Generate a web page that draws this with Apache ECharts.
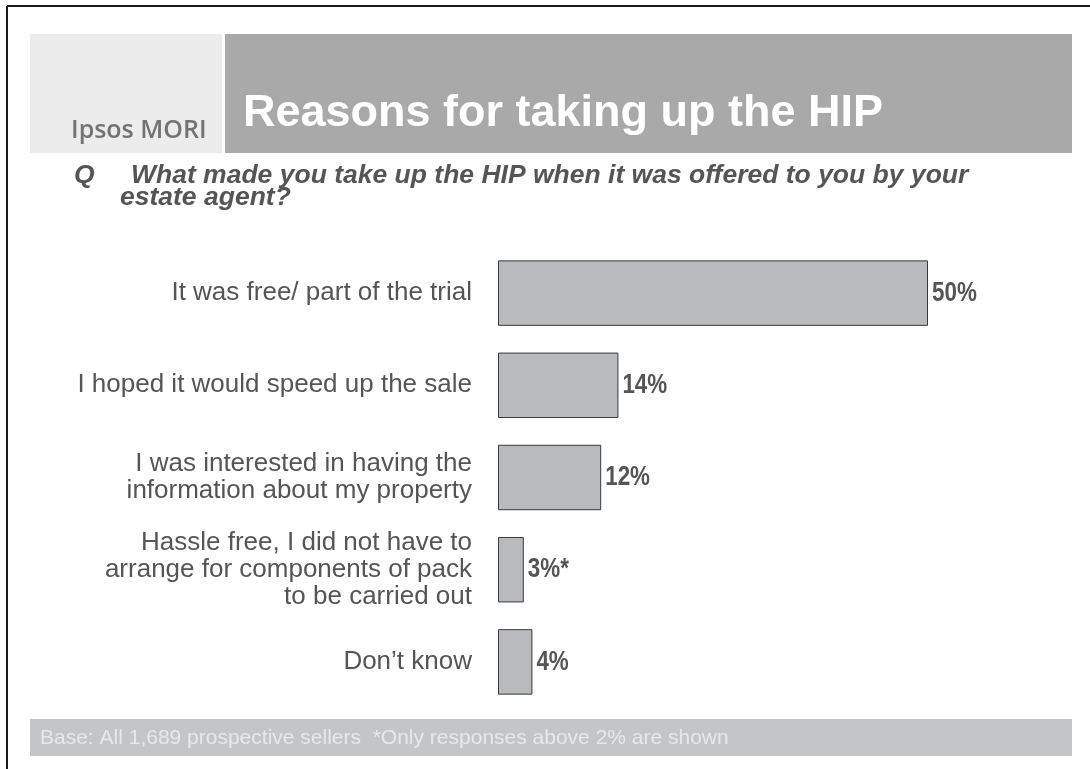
<!DOCTYPE html>
<html>
<head>
<meta charset="utf-8">
<script src="https://cdn.jsdelivr.net/npm/echarts@6/dist/echarts.min.js"></script>
<style>
  html, body { margin: 0; padding: 0; background: #ffffff; }
  #chart { width: 1090px; height: 769px; }
</style>
</head>
<body>
<div id="chart"></div>
<script>
// Survey answers, top to bottom
const categories = [
  'It was free/ part of the trial',
  'I hoped it would speed up the sale',
  'I was interested in having the\ninformation about my property',
  'Hassle free, I did not have to\narrange for components of pack\nto be carried out',
  'Don\u2019t know'
];
const shares = [50, 14, 12, 3, 4];        // percent of respondents
const shareNotes = ['', '', '', '*', ''];  // footnote markers after a value

const titleText = 'Reasons for taking up the HIP';
const brandText = 'Ipsos MORI';
const questionMark = 'Q';
const questionLines = [
  'What made you take up the HIP when it was offered to you by your',
  'estate agent?'
];
const baseText = 'Base: All 1,689 prospective sellers  *Only responses above 2% are shown';

const chart = echarts.init(document.getElementById('chart'), null, { renderer: 'canvas' });

const ARIAL = '"Liberation Sans", Arial, sans-serif';
const QFONT = 'italic bold 26.5px ' + ARIAL;

// value labels: bold type squeezed horizontally, like a narrow face
function renderValueLabel(params, api) {
  const idx = params.dataIndex;
  const end = api.coord([api.value(0), api.value(1)]);
  return {
    type: 'text',
    x: end[0] + 4,
    y: end[1],
    scaleX: 0.8,
    style: {
      text: api.value(0) + '%' + shareNotes[idx],
      fill: '#555555',
      font: 'bold 28px ' + ARIAL,
      align: 'left',
      verticalAlign: 'middle'
    }
  };
}

chart.setOption({
  backgroundColor: '#ffffff',
  animation: false,
  graphic: [
    // page frame (top and left edges)
    { type: 'line', shape: { x1: 7, y1: 6, x2: 1090, y2: 6 }, style: { stroke: '#1a1a1a', lineWidth: 2 } },
    { type: 'line', shape: { x1: 7, y1: 6, x2: 7, y2: 769 }, style: { stroke: '#1a1a1a', lineWidth: 2 } },
    // header blocks
    { type: 'rect', shape: { x: 30, y: 34, width: 192, height: 119 }, style: { fill: '#ececec' } },
    { type: 'rect', shape: { x: 225, y: 34, width: 847, height: 119 }, style: { fill: '#a9a9a9' } },
    {
      type: 'text', x: 71, y: 131,
      style: {
        text: brandText, fill: '#737373',
        font: '600 25px "Open Sans", "Noto Sans", sans-serif',
        verticalAlign: 'middle'
      }
    },
    {
      type: 'text', x: 243, y: 114,
      style: {
        text: titleText, fill: '#ffffff',
        font: 'bold 45px ' + ARIAL,
        verticalAlign: 'middle'
      }
    },
    // question
    {
      type: 'text', x: 74, y: 176,
      style: { text: questionMark, fill: '#555555', font: QFONT, verticalAlign: 'middle' }
    },
    {
      type: 'text', x: 131, y: 176,
      style: { text: questionLines[0], fill: '#555555', font: QFONT, verticalAlign: 'middle' }
    },
    {
      type: 'text', x: 120, y: 198,
      style: { text: questionLines[1], fill: '#555555', font: QFONT, verticalAlign: 'middle' }
    },
    // base note strip
    { type: 'rect', shape: { x: 30, y: 719, width: 1042, height: 37 }, style: { fill: '#c4c5c7' } },
    {
      type: 'text', x: 40, y: 738,
      style: { text: baseText, fill: '#e8e8e8', font: '21px ' + ARIAL, verticalAlign: 'middle' }
    }
  ],
  grid: { left: 498, top: 247, right: 76, bottom: 61, containLabel: false },
  xAxis: {
    type: 'value', min: 0, max: 60,
    show: false
  },
  yAxis: {
    type: 'category',
    data: categories,
    inverse: true,
    axisLine: { show: false },
    axisTick: { show: false },
    splitLine: { show: false },
    axisLabel: {
      margin: 26,
      color: '#555555',
      fontFamily: ARIAL,
      fontSize: 26,
      lineHeight: 27,
      align: 'right'
    }
  },
  series: [
    {
      type: 'bar',
      data: shares,
      barCategoryGap: '29%',
      itemStyle: { color: '#b9babc', borderColor: '#3a3a3a', borderWidth: 1 }
    },
    {
      type: 'custom',
      data: shares.map((v, i) => [v, i]),
      encode: { x: 0, y: 1 },
      renderItem: renderValueLabel,
      z: 5
    }
  ]
});
</script>
</body>
</html>
